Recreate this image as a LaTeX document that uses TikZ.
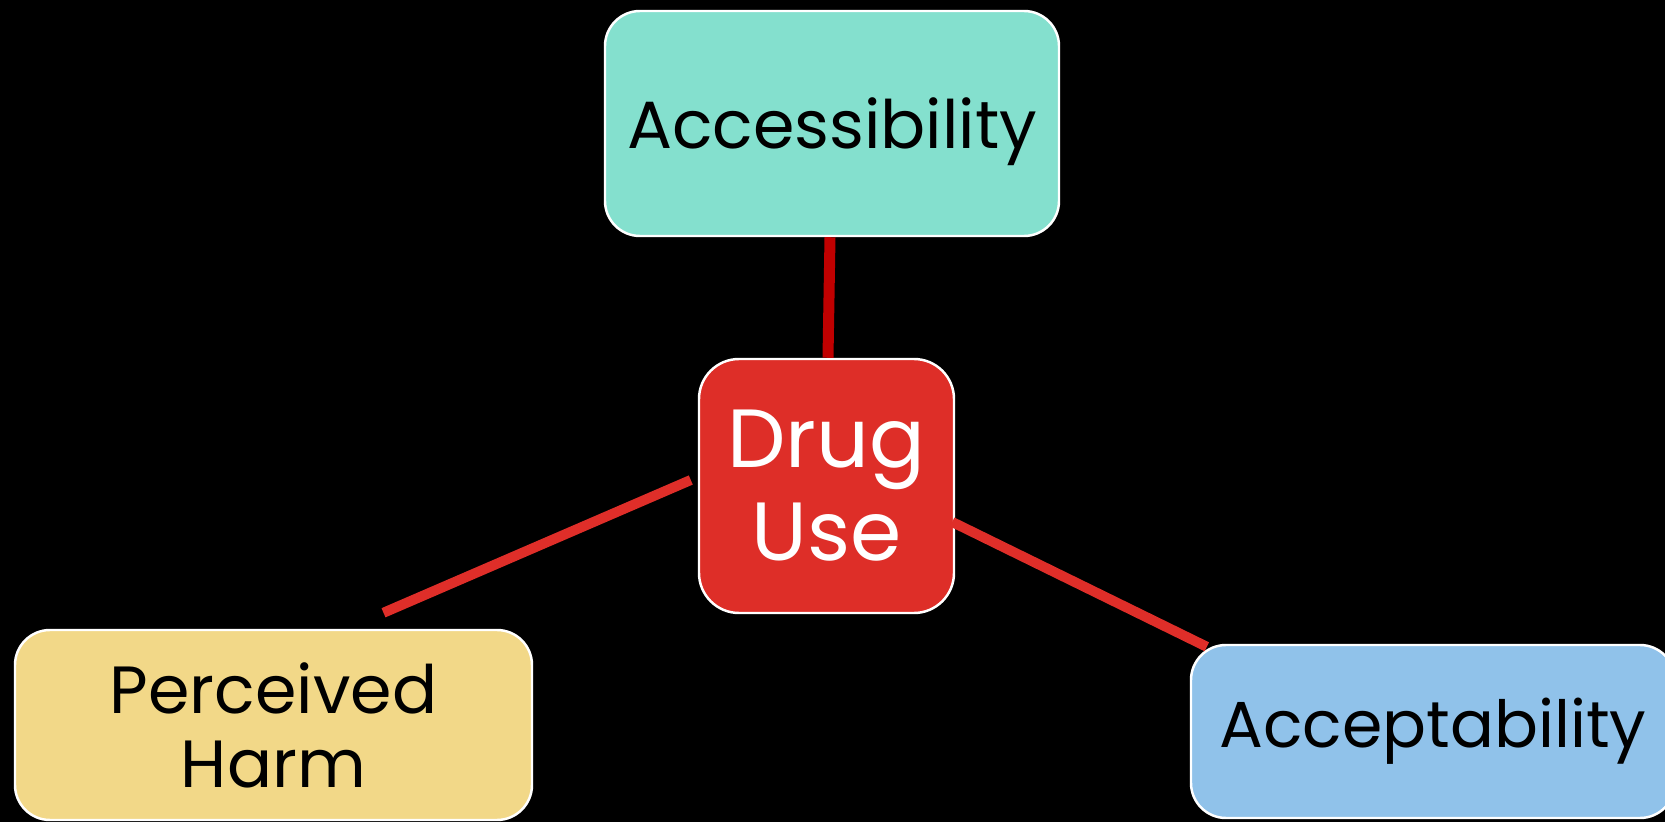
\documentclass[tikz,border=0pt]{standalone}
\usepackage{fontspec}
\setmainfont{Poppins}
\definecolor{accfill}{RGB}{132,224,206}
\definecolor{drugfill}{RGB}{222,46,40}
\definecolor{harmfill}{RGB}{242,216,136}
\definecolor{acptfill}{RGB}{144,194,234}
\definecolor{linkred}{RGB}{223,46,41}
\definecolor{linkdark}{RGB}{192,0,0}
\begin{document}
\begin{tikzpicture}[
factor/.style ={rectangle, draw=white, line width=1.4pt,
  text=black, align=center, rounded corners=0.7cm
},
core/.style ={rectangle, draw=white, line width=1.4pt, fill=drugfill,
  text=white, align=center, rounded corners=0.8cm,
  minimum width=5.1cm, minimum height=5.08cm
},
link/.style ={draw=linkred, line width=0.2cm}]
\fill[black] (0,0) rectangle (33.3,16.44);
\useasboundingbox (0,0) rectangle (33.3,16.44);
\node (acc) at (16.64,13.97) [factor, fill=accfill,
  minimum width=9.08cm, minimum height=4.5cm, text depth=0pt,
  font=\fontsize{38}{46}\selectfont] {Accessibility};
\node (drug) at (16.53,6.72) [core,
  font=\fontsize{47}{53}\selectfont] {Drug\\Use};
\node (harm) at (5.47,1.94) [factor, fill=harmfill,
  minimum width=10.34cm, minimum height=3.8cm,
  font=\fontsize{38}{42}\selectfont] {Perceived\\Harm};
\node (acpt) at (28.66,1.81) [factor, fill=acptfill,
  minimum width=9.68cm, minimum height=3.46cm,
  font=\fontsize{37}{45}\selectfont] {Acceptability};
\coordinate (harmend) at ([xshift=2.2cm, yshift=0.32cm]harm.north);
\draw[link, draw=linkdark, line width=0.22cm] ([xshift=-0.04cm]acc.south) -- ([xshift=0.03cm]drug.north);
\draw[link] ([xshift=-0.14cm, yshift=0.12cm]drug.west) -- (harmend);
\draw[link] ([xshift=-0.06cm, yshift=-0.72cm]drug.east) -- ([xshift=0.34cm, yshift=-0.06cm]acpt.north west);
\end{tikzpicture}
\end{document}
